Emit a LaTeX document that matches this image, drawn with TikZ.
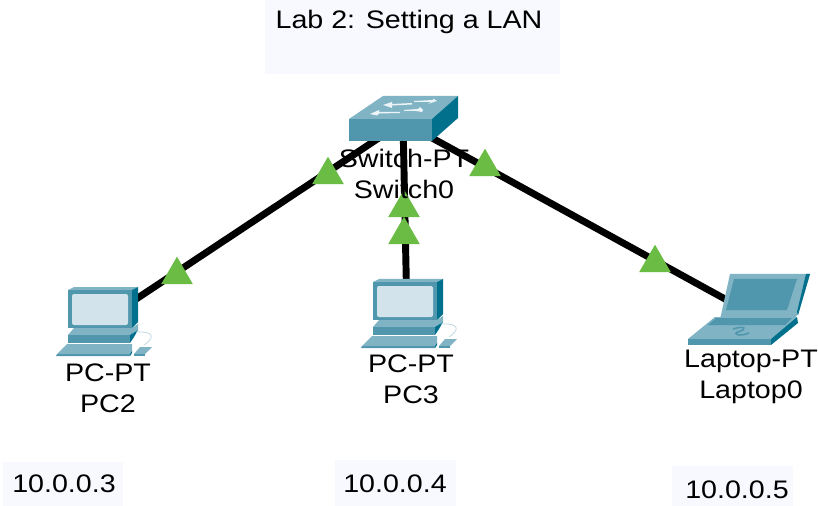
\documentclass[tikz,border=0pt]{standalone}
\usepackage{fontspec}
\setmainfont{Liberation Sans}
\usetikzlibrary{shapes.geometric}
\definecolor{tealA}{HTML}{5097AD}
\definecolor{tealB}{HTML}{80B4C5}
\definecolor{tealC}{HTML}{00708C}
\definecolor{screenC}{HTML}{D3E3EC}
\definecolor{boxC}{HTML}{F8F9FF}
\definecolor{triC}{HTML}{6ABC45}
\tikzset{
  x=0.75pt,y=-0.75pt,
  lbl/.style={font=\fontsize{19pt}{21pt}\selectfont,text=black,inner sep=0pt,xscale=1.13,align=center},
  link/.style={line width=5.2pt,black},
  tri/.style={regular polygon,regular polygon sides=3,fill=triC,minimum size=27.5pt,inner sep=0pt,anchor=center},
  bx/.style={fill=boxC,draw=none},
  pics/pcicon/.style={code={
    % monitor (origin = left of monitor top)
    \fill[tealB] (0,3) -- (6,0) -- (70,0) -- (64,3) -- cycle;
    \fill[tealC] (64,3) -- (70,0) -- (70,35) -- (64,41) -- cycle;
    \fill[tealA] (0,3) rectangle (64,41);
    \fill[screenC,rounded corners=1.5pt] (4,7) rectangle (60,38);
    % stand
    \fill[tealB] (6,41) -- (64,41) -- (70,37) -- (70,43) -- (62,48) -- (0,48) -- cycle;
    \fill[tealA] (0,48) rectangle (62,56);
    \fill[tealC] (62,48) -- (70,43) -- (66,50) -- (62,56) -- cycle;
    % keyboard
    \fill[tealB] (-11,67) -- (-1,57) -- (64,57) -- (64,65) -- (62,67) -- cycle;
    \fill[tealA] (-11,67) -- (62,67) -- (62,69) -- (-12,69) -- cycle;
    \fill[tealC] (62,67) -- (64,64) -- (64,66) -- (62,69) -- cycle;
    % mouse and cable
    \fill[tealB] (66,67) -- (72,60) -- (84,60) -- (77,67) -- cycle;
    \fill[tealA] (66,67) rectangle (77,69);
    \draw[tealB!50,line width=0.6pt] (68,45) .. controls (85,44) and (88,50) .. (76,58);
  }}
}
\begin{document}
\begin{tikzpicture}
\useasboundingbox (0,0) rectangle (818,506);
\fill[white] (0,0) rectangle (818,506);
% text boxes
\node[bx,minimum width=221.25pt,minimum height=55.5pt,inner sep=0pt] (titlebox) at (412.5,37) {};
\node[bx,minimum width=90pt,minimum height=33pt,inner sep=0pt] (ipa) at (63,484) {};
\node[bx,minimum width=90.75pt,minimum height=34.5pt,inner sep=0pt] (ipb) at (395.5,483) {};
\node[bx,minimum width=90.75pt,minimum height=30pt,inner sep=0pt] (ipc) at (732.5,486) {};
% anchors of the devices
\coordinate (sw) at (403,122);
\coordinate (pcb) at (100,323);
\coordinate (pcc) at (407,315);
\coordinate (lap) at (745,310);
% connectors
\draw[link] (sw) -- (pcb);
\draw[link] (sw) -- (pcc);
\draw[link] (sw) -- (lap);
% triangles
\node[tri] (t1) at (328,175) {};
\node[tri] (t2) at (177,275) {};
\node[tri] (t3) at (404,208) {};
\node[tri] (t4) at (404,235) {};
\node[tri] (t5) at (485,167) {};
\node[tri] (t6) at (655,263) {};
% switch
\fill[tealB] (349,119) -- (383,96) -- (458,96) -- (432,119) -- cycle;
\fill[tealA] (349,119) rectangle (432,141);
\fill[tealC] (432,119) -- (458,96) -- (458,118) -- (432,141) -- cycle;
\fill[white!85!tealB] (383,105) -- (392,102) -- (392,104) -- (412,103) -- (412,104.5) -- (392,105.5) -- (392,108) -- cycle;
\fill[white!85!tealB] (437,101) -- (433,98.5) -- (433,100) -- (414,101) -- (414,102) -- (431,102) -- (428,104) -- cycle;
\fill[white!85!tealB] (370,114) -- (379,110) -- (379,112) -- (400,112) -- (400,113) -- (379,113.5) -- (377,115.5) -- cycle;
\fill[white!85!tealB] (423,110) -- (420,107) -- (418,109) -- (404,110) -- (404,111) -- (416,111) -- (422,112) -- cycle;
% PCs
\pic at (68,287) {pcicon};
\pic at (373,279) {pcicon};
% laptop
\fill[tealB] (730,274) -- (810,274) -- (798,315) -- (721,315) -- cycle;
\fill[tealA] (734,279) -- (797,279) -- (787,310) -- (726,310) -- cycle;
\fill[tealC] (806,274) -- (810,274) -- (798,315) -- (797,312) -- cycle;
\fill[tealB] (721,315) -- (797,315) -- (795,318) -- (720,318) -- cycle;
\fill[tealB] (688,339) -- (715,317) -- (797,317) -- (771,339) -- cycle;
\fill[tealA] (708,325) -- (716,318) -- (792,318) -- (785,325) -- cycle;
\fill[tealA] (688,339) rectangle (771,345);
\fill[tealC] (771,339) -- (797,317) -- (798,323) -- (771,345) -- cycle;
\draw[tealA,line width=1.2pt] (733,329) .. controls (745,325) and (748,329) .. (738,332) .. controls (732,334) and (740,337) .. (749,333);
% labels
\node[lbl] (title) at (409,22) {Lab 2: Setting a LAN};
\node[lbl] (swl) at (404,174) {Switch-PT\\[2pt]Switch0};
\node[lbl] (pcbl) at (108,388) {PC-PT\\[2pt]PC2};
\node[lbl] (pccl) at (411,379) {PC-PT\\[2pt]PC3};
\node[lbl] (lapl) at (751,377) {Laptop-PT\\[2pt]Laptop0};
\node[lbl] (ipal) at (64,484) {10.0.0.3};
\node[lbl] (ipbl) at (395,484) {10.0.0.4};
\node[lbl] (ipcl) at (737,490) {10.0.0.5};
\end{tikzpicture}
\end{document}
